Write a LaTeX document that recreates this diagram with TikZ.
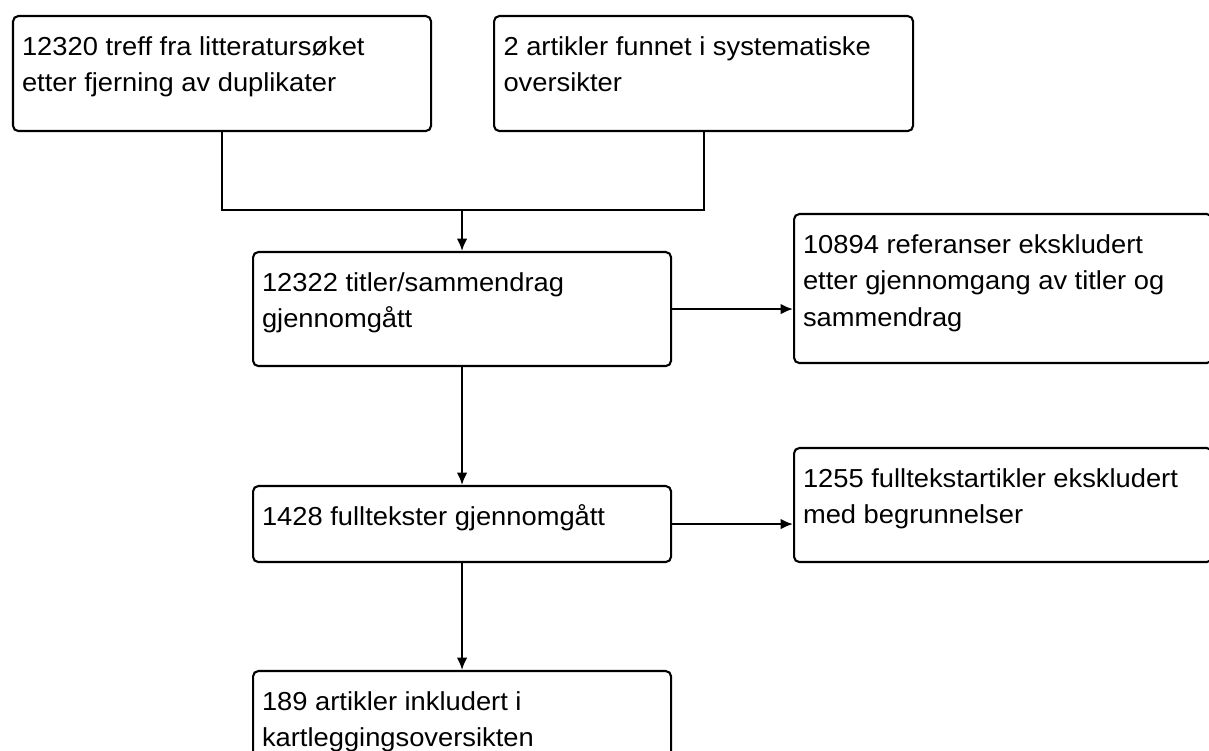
\documentclass[tikz,border=0pt]{standalone}
\usepackage{fontspec}
\setmainfont{Liberation Sans}[FakeStretch=1.05]
\usetikzlibrary{arrows.meta}
\tikzset{flowbox/.style={draw,line width=0.6pt,rounded corners=1.5pt,anchor=north west,
        align=flush left,text width=4.0cm,inner xsep=0.09cm,inner ysep=0pt,
        text height=0.39cm,minimum width=4.18cm,
        font=\fontsize{7.4}{10.4}\selectfont
    },
    flowarrow/.style={line width=0.6pt,-{Latex[length=3.5pt,width=3pt]}}
}

\begin{document}
\begin{tikzpicture}
      \useasboundingbox (0,0) rectangle (12.09,-7.51);
      \node[flowbox,text depth=0.76cm] (treff) at (0.12,-0.15) {12320 treff fra litteratursøket\\etter fjerning av duplikater};
      \node[flowbox,text depth=0.76cm,minimum width=4.19cm] (funnet) at (4.93,-0.15) {2 artikler funnet i systematiske\\oversikter};
      \node[flowbox,text depth=0.75cm] (titler) at (2.52,-2.51) {12322 titler/sammendrag\\gjennomgått};
      \node[flowbox,text depth=1.10cm,minimum width=4.15cm] (ekskl) at (7.93,-2.13) {10894 referanser ekskludert\\etter gjennomgang av titler og\\sammendrag};
      \node[flowbox,text depth=0.37cm] (fulltekst) at (2.52,-4.85) {1428 fulltekster gjennomgått};
      \node[flowbox,text depth=0.75cm,minimum width=4.15cm] (fullekskl) at (7.93,-4.47) {1255 fulltekstartikler ekskludert\\med begrunnelser};
      \node[flowbox,text depth=0.60cm] (inkl) at (2.52,-6.70) {189 artikler inkludert i\\kartleggingsoversikten};
      % samling av de to kildene
      \coordinate (samle) at (0,-2.10);
      \draw[line width=0.6pt] (treff.south) |- (samle -| funnet.south) -- (funnet.south);
      \draw[flowarrow] (samle -| titler.north) -- (titler.north);
      \draw[flowarrow] (titler.east) -- (titler.east -| ekskl.west);
      \draw[flowarrow] (titler.south) -- (fulltekst.north);
      \draw[flowarrow] (fulltekst.east) -- (fulltekst.east -| fullekskl.west);
      \draw[flowarrow] (fulltekst.south) -- (inkl.north);
\end{tikzpicture}
\end{document}
